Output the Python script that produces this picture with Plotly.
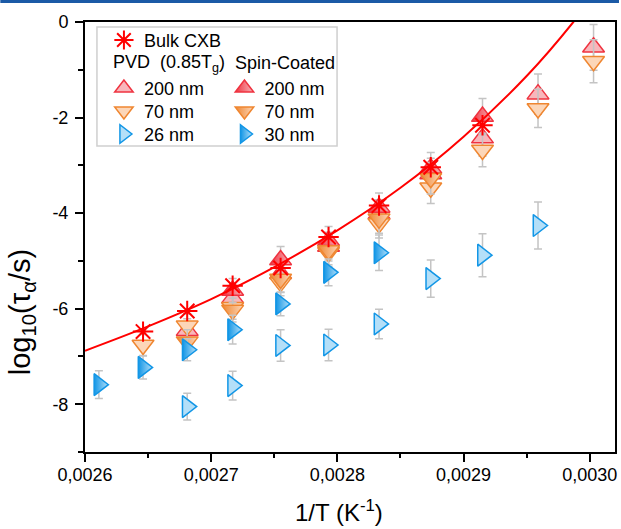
import plotly.graph_objects as go

# ---------------- data ----------------
# x positions are 1/T for T = 383, 378, ..., 333 K
inv_T = [0.002611, 0.002646, 0.002681, 0.002717, 0.002755, 0.002793,
         0.002833, 0.002874, 0.002915, 0.002959, 0.003003]

bulk_x = inv_T[1:9]
bulk_y = [-6.48, -6.05, -5.52, -5.15, -4.50, -3.84, -3.04, -2.16]

pvd200_x = inv_T[2:11]
pvd200_y = [-6.46, -5.78, -5.27, -4.70, -4.02, -3.18, -2.43, -1.51, -0.53]
pvd200_err = [0.25, 0.25, 0.28, 0.30, 0.30, 0.33, 0.38, 0.42, 0.48]

pvd70_x = inv_T[1:11]
pvd70_y = [-6.76, -6.36, -5.97, -5.45, -4.82, -4.22, -3.47, -2.68, -1.81, -0.82]
pvd70_err = [0.22, 0.25, 0.25, 0.28, 0.30, 0.30, 0.33, 0.35, 0.40, 0.45]

pvd26_x = inv_T[2:10]
pvd26_y = [-8.05, -7.61, -6.77, -6.76, -6.32, -5.37, -4.88, -4.26]
pvd26_err = [0.28, 0.30, 0.33, 0.33, 0.31, 0.39, 0.45, 0.49]

spin200_x = inv_T[3:9]
spin200_y = [-5.62, -4.98, -4.58, -3.88, -3.06, -1.98]
spin200_err = [0.25, 0.28, 0.30, 0.30, 0.33, 0.38]

spin70_x = inv_T[2:8]
spin70_y = [-6.69, -6.03, -5.38, -4.78, -4.12, -3.27]
spin70_err = [0.25, 0.25, 0.28, 0.30, 0.30, 0.33]

spin30_x = inv_T[0:7]
spin30_y = [-7.59, -7.23, -6.86, -6.44, -5.90, -5.24, -4.83]
spin30_err = [0.29, 0.24, 0.23, 0.30, 0.25, 0.28, 0.37]

# red fit curve
fit_x = [0.00260, 0.00265, 0.00270, 0.00275, 0.00280, 0.00285,
         0.00290, 0.00295, 0.002987, 0.00300]
fit_y = [-6.88, -6.37, -5.80, -5.13, -4.36, -3.47, -2.40, -1.13, 0.0, 0.46]

x_tickvals = [0.0026, 0.0027, 0.0028, 0.0029, 0.0030]
x_ticktext = ["0,0026", "0,0027", "0,0028", "0,0029", "0,0030"]
x_minor = [0.00265, 0.00275, 0.00285, 0.00295]
y_tickvals = [0, -2, -4, -6, -8]
y_ticktext = ["0", "-2", "-4", "-6", "-8"]
y_minor = [-1, -3, -5, -7, -9]

# ---------------- geometry ----------------
W, H = 621, 529
ML, MR, MT, MB = 85, 4, 22, 77
PW, PH = W - ML - MR, H - MT - MB

def px(X):
    return (X - ML) / PW

def py(Y):
    return (MT + PH - Y) / PH

FONT = "Liberation Sans, Arial, sans-serif"
ERR_C = "#c4c4c4"

RED, PINK = "#ef3340", "#f8b6bb"
ORG, PEACH = "#ef8630", "#fcd6b8"
BLU, SKY = "#1296e6", "#b4dff8"

fig = go.Figure()

def err(arr):
    return dict(type="data", array=arr, visible=True, color=ERR_C,
                thickness=1.5, width=4)

def add(x, y, e, name, symbol, fill, line, leg, grad=None):
    m = dict(symbol=symbol, size=19, color=fill, line=dict(color=line, width=1.5))
    if grad:
        m["gradient"] = dict(type="horizontal", color=grad)
    fig.add_trace(go.Scatter(x=x, y=y, mode="markers", name=name, marker=m,
                             error_y=err(e) if e else None, legend=leg,
                             cliponaxis=False))

add(pvd200_x, pvd200_y, pvd200_err, "200 nm", "triangle-up", PINK, RED, "legend2")
add(pvd70_x, pvd70_y, pvd70_err, "70 nm", "triangle-down", PEACH, ORG, "legend3")
add(pvd26_x, pvd26_y, pvd26_err, "26 nm", "triangle-right", SKY, BLU, "legend4")
add(spin200_x, spin200_y, spin200_err, "200 nm", "triangle-up", RED, RED, "legend5", PINK)
add(spin70_x, spin70_y, spin70_err, "70 nm", "triangle-down", ORG, ORG, "legend6", PEACH)
add(spin30_x, spin30_y, spin30_err, "30 nm", "triangle-right", BLU, BLU, "legend7", SKY)

fig.add_trace(go.Scatter(x=bulk_x, y=bulk_y, mode="markers", name="Bulk CXB",
                         marker=dict(symbol="asterisk-open", size=17, color="#ff0000",
                                     line=dict(color="#ff0000", width=2)),
                         legend="legend"))
fig.add_trace(go.Scatter(x=fit_x, y=fit_y, mode="lines", showlegend=False,
                         line=dict(color="#ff0000", width=2, shape="spline")))

# ---------------- legends (one item each, placed in the box) ----------------
def leg(sx, sy):
    return dict(x=px(sx - 19), y=py(sy - 18.2), xanchor="left", yanchor="top",
                bgcolor="rgba(0,0,0,0)", borderwidth=0,
                font=dict(family=FONT, size=18, color="black"))

legend_pos = {
    "legend": (123, 40),
    "legend2": (123, 88), "legend3": (123, 111), "legend4": (123, 134),
    "legend5": (244, 88), "legend6": (244, 111), "legend7": (244, 134),
}
for k, (sx, sy) in legend_pos.items():
    fig.update_layout(**{k: leg(sx, sy)})

shapes = [
    dict(type="rect", xref="paper", yref="paper", x0=px(97), x1=px(338),
         y0=py(146), y1=py(27), line=dict(color="#cfcfcf", width=1.5)),
    dict(type="line", xref="paper", yref="paper", x0=px(0), x1=px(W),
         y0=py(1.6), y1=py(1.6), line=dict(color="#1b5aa6", width=3)),
]

annotations = [
    dict(text="PVD\u00a0\u00a0(0.85T<sub>g</sub>)", xref="paper", yref="paper",
         x=px(111), y=py(63), xanchor="left", yanchor="middle", showarrow=False,
         font=dict(family=FONT, size=18, color="black")),
    dict(text="Spin-Coated", xref="paper", yref="paper",
         x=px(234), y=py(63), xanchor="left", yanchor="middle", showarrow=False,
         font=dict(family=FONT, size=18, color="black")),
    dict(text="1/T (K<sup>-1</sup>)", xref="paper", yref="paper",
         x=px(340), y=py(511), xanchor="center", yanchor="middle", showarrow=False,
         font=dict(family=FONT, size=24, color="black")),
    dict(text="log<sub>10</sub>(τ<sub>α</sub>/s)", xref="paper", yref="paper",
         x=px(22), y=py(312), xanchor="center", yanchor="middle", showarrow=False,
         textangle=-90, font=dict(family=FONT, size=29, color="black")),
]

axis_common = dict(showgrid=False, zeroline=False, showline=True, linecolor="black",
                   linewidth=2, mirror=True, ticks="outside", tickcolor="black",
                   tickwidth=2, tickfont=dict(family=FONT, size=18, color="black"))

fig.update_layout(
    width=W, height=H, margin=dict(l=ML, r=MR, t=MT, b=MB),
    paper_bgcolor="white", plot_bgcolor="white",
    font=dict(family=FONT, color="black"),
    shapes=shapes, annotations=annotations,
    xaxis=dict(range=[0.0026, 0.00302], tickvals=x_tickvals, ticktext=x_ticktext,
               ticklen=8, ticklabelstandoff=-3,
               minor=dict(tickvals=x_minor, ticks="outside", ticklen=4,
                          tickwidth=2, tickcolor="black"),
               **axis_common),
    yaxis=dict(range=[-9, 0], tickvals=y_tickvals, ticktext=y_ticktext,
               ticklen=8, ticklabelstandoff=3,
               minor=dict(tickvals=y_minor, ticks="outside", ticklen=5,
                          tickwidth=2, tickcolor="black"),
               **axis_common),
)

fig.write_html("out.html", config={"displayModeBar": False},
               post_script="document.body.style.margin='0';")
